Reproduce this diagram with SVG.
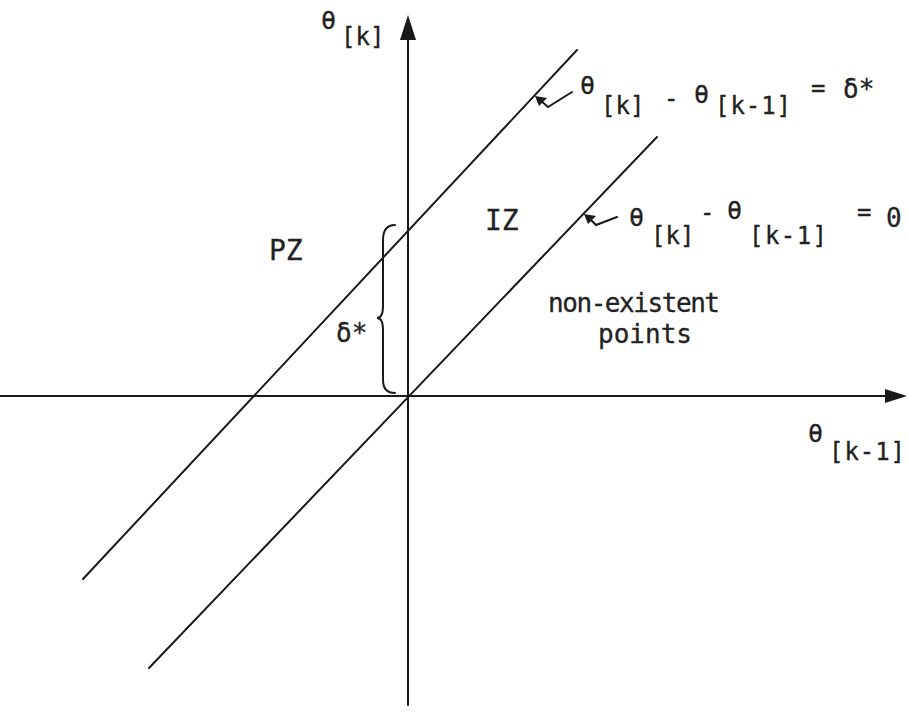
<svg xmlns="http://www.w3.org/2000/svg" width="908" height="713" viewBox="0 0 908 713">
<style>
.ln{stroke:#1a1a1a;stroke-width:2;fill:none;stroke-linecap:round}
.t{font-family:"DejaVu Sans Mono","Liberation Mono",monospace;fill:#222;stroke:#222;stroke-width:0.3}
.th{font-size:25px}
.sb{font-size:24px}
.big{font-size:28px}
.ah{fill:#1a1a1a}
</style>
<rect width="908" height="713" fill="#fff"/>
<g id="connectors">
  <line class="ln" x1="408" y1="36" x2="408" y2="705"/>
  <polygon class="ah" points="408,15 400,40 416,40"/>
  <line class="ln" x1="0" y1="396" x2="888" y2="396"/>
  <polygon class="ah" points="907,396 885,389 885,403"/>
  <line class="ln" x1="149" y1="668" x2="657" y2="137"/>
  <line class="ln" x1="83" y1="579" x2="577" y2="50"/>
  <path class="ln" stroke-width="2.4" d="M572,92 L548,107 L539,99"/>
  <polygon class="ah" points="535,96 547,98 539,106"/>
  <path class="ln" stroke-width="2.4" d="M617,217 L596,225 L589,218"/>
  <polygon class="ah" points="584,214 596,216 588,224"/>
  <path class="ln" stroke-width="1.8" d="M395,225 Q383,225 383,240 L383,306 Q383,318 377,318 Q383,318 383,330 L383,380 Q383,393 395,393"/>
</g>
<g id="axis-y-label">
  <text class="t th" x="321" y="29">θ</text>
  <text class="t sb" x="341" y="45">[k]</text>
</g>
<g id="axis-x-label">
  <text class="t th" x="808" y="442">θ</text>
  <text class="t sb" x="829" y="460" textLength="76">[k-1]</text>
</g>
<g id="eq1">
  <text class="t th" x="580" y="94">θ</text>
  <text class="t sb" x="601" y="114">[k]</text>
  <text class="t sb" x="664" y="107">-</text>
  <text class="t th" x="694" y="103">θ</text>
  <text class="t sb" x="715" y="114" textLength="76">[k-1]</text>
  <text class="t sb" x="811" y="96">=</text>
  <text class="t" font-size="26" x="843" y="98">δ*</text>
</g>
<g id="eq2">
  <text class="t th" x="629" y="226">θ</text>
  <text class="t sb" x="651" y="244">[k]</text>
  <text class="t sb" x="700" y="221">-</text>
  <text class="t th" x="727" y="219">θ</text>
  <text class="t sb" x="749" y="244" textLength="78">[k-1]</text>
  <text class="t sb" x="857" y="220">=</text>
  <text class="t" font-size="26" x="886" y="227">0</text>
</g>
<g id="PZ"><text class="t big" x="269" y="260">PZ</text></g>
<g id="IZ"><text class="t big" x="485" y="230">IZ</text></g>
<g id="nonexistent">
  <text class="t" font-size="26" x="548" y="312" textLength="172">non-existent</text>
  <text class="t" font-size="26" x="598" y="343" textLength="94">points</text>
</g>
<g id="delta">
  <text class="t" font-size="26" x="336" y="342">δ*</text>
</g>
</svg>
